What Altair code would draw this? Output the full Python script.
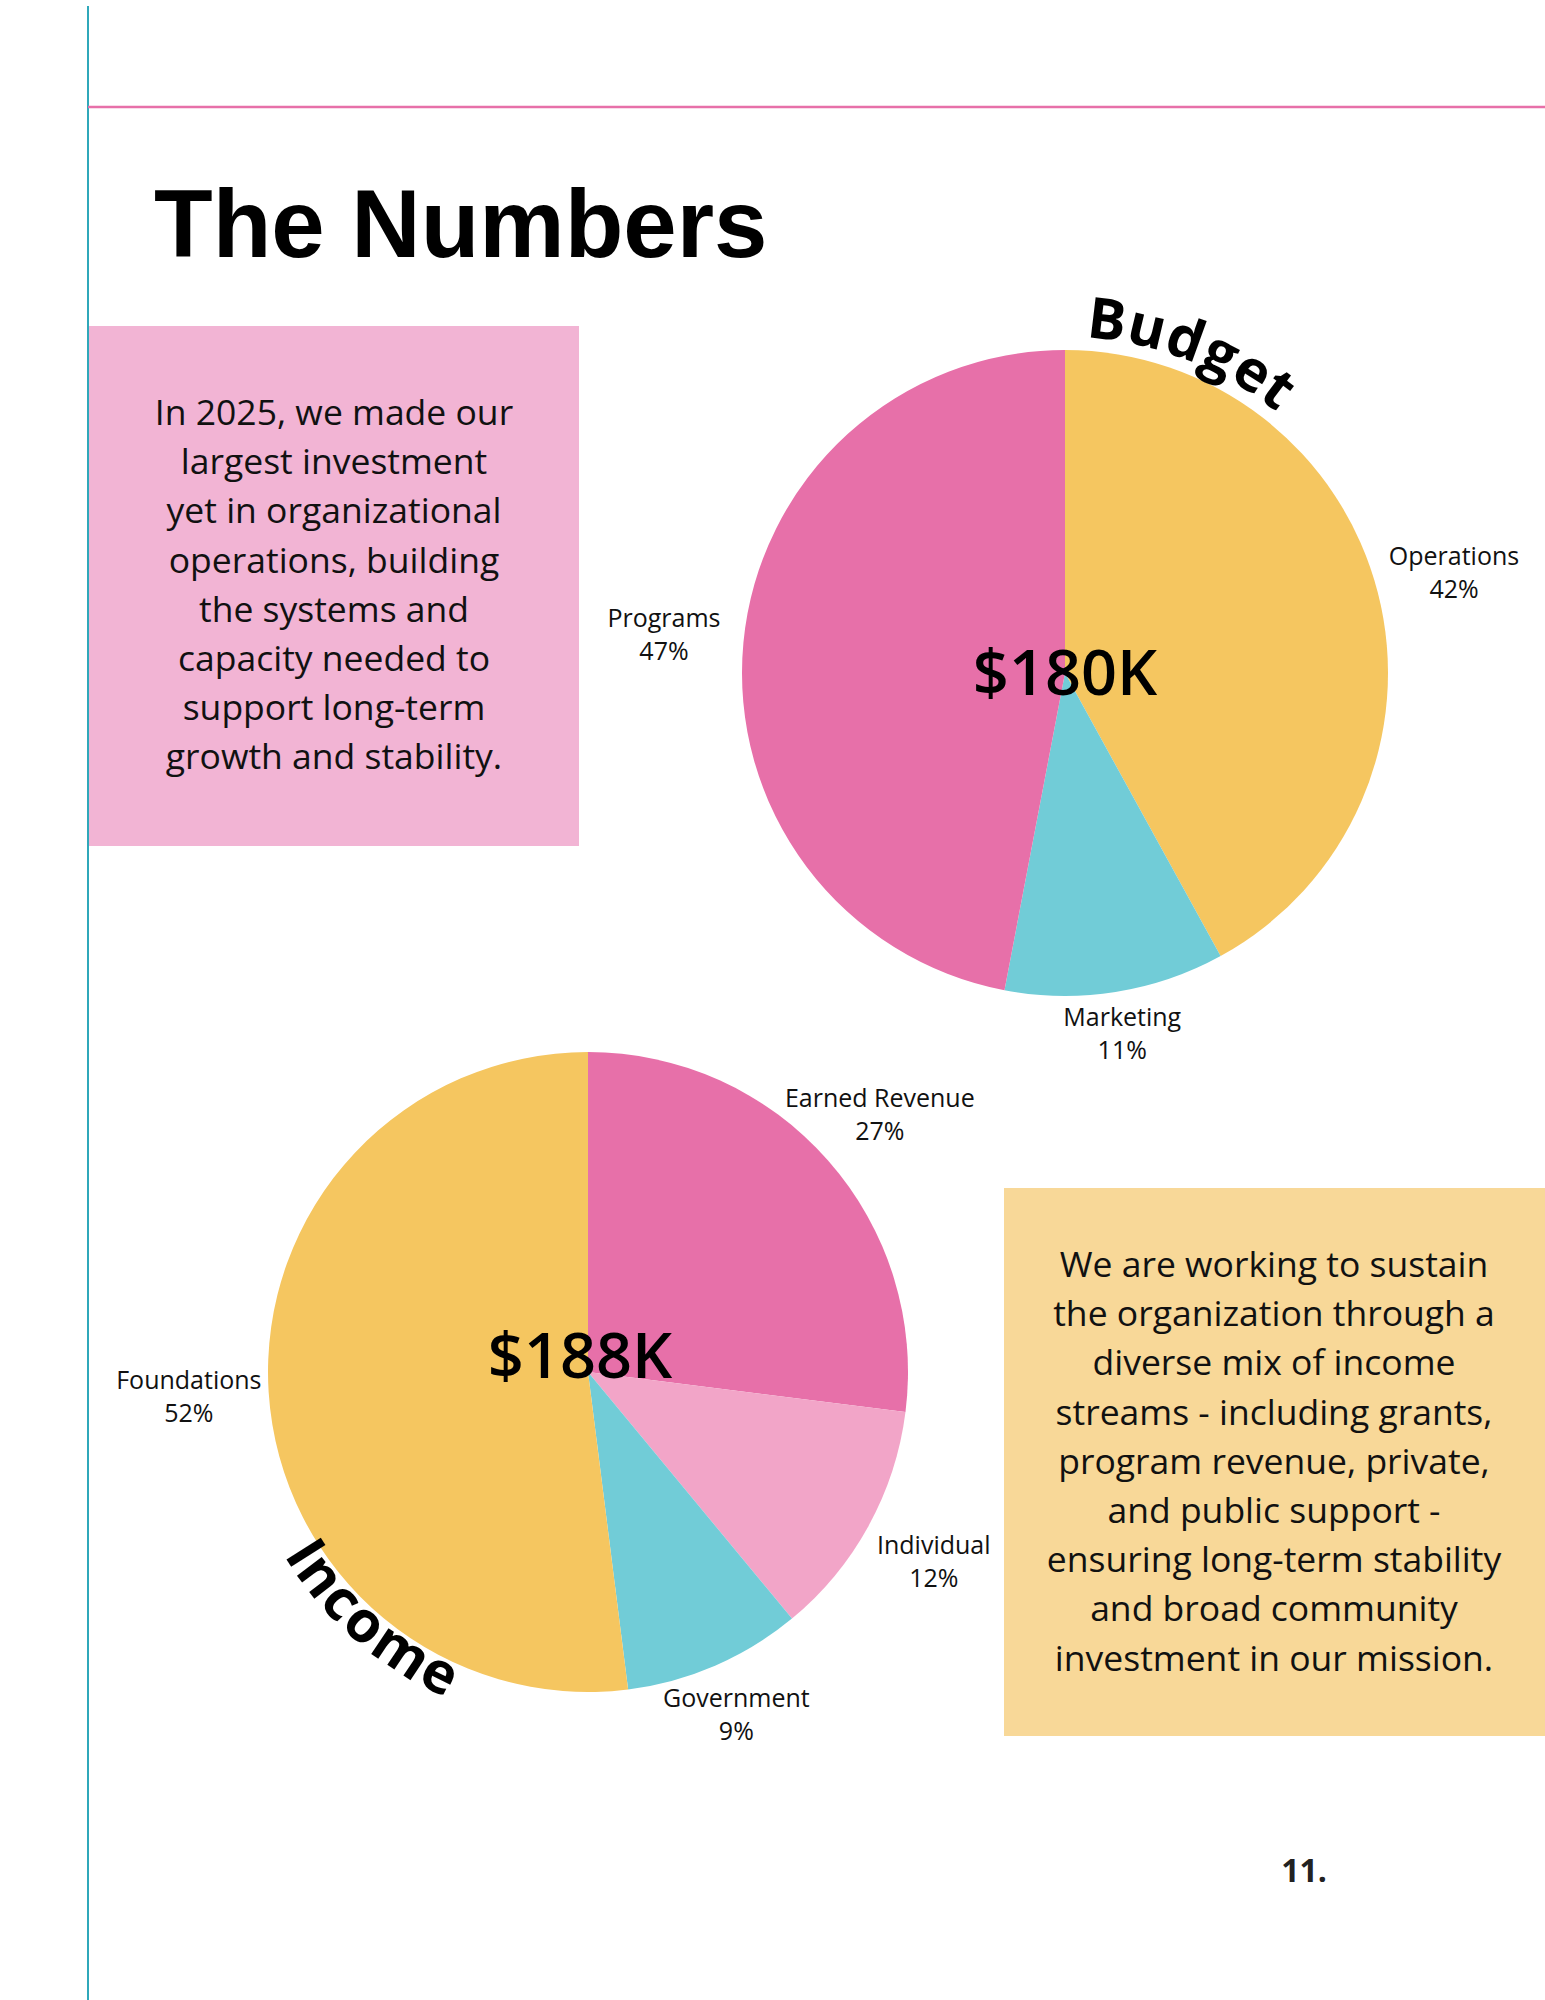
import math

import altair as alt
import numpy as np
import pandas as pd

W, H = 1545, 2000

# ---- data -------------------------------------------------------------
budget_categories = ["Operations", "Marketing", "Programs"]
budget_pct = [42, 11, 47]
budget_total = "$180K"

income_categories = ["Earned Revenue", "Individual", "Government", "Foundations"]
income_pct = [27, 12, 9, 52]
income_total = "$188K"

intro_lines = [
    "In 2025, we made our",
    "largest investment",
    "yet in organizational",
    "operations, building",
    "the systems and",
    "capacity needed to",
    "support long-term",
    "growth and stability.",
]

income_lines = [
    "We are working to sustain",
    "the organization through a",
    "diverse mix of income",
    "streams - including grants,",
    "program revenue, private,",
    "and public support -",
    "ensuring long-term stability",
    "and broad community",
    "investment in our mission.",
]

title = "The Numbers"
page_number = "11."

# ---- styling ----------------------------------------------------------
YELLOW = "#F5C660"
PINK = "#E770A9"
TEAL = "#71CCD7"
LIGHT_PINK = "#F2A5C8"
palette = {
    "Operations": YELLOW,
    "Marketing": TEAL,
    "Programs": PINK,
    "Earned Revenue": PINK,
    "Individual": LIGHT_PINK,
    "Government": TEAL,
    "Foundations": YELLOW,
}
color_scale = alt.Scale(domain=list(palette), range=list(palette.values()))

BODY_FONT = "Open Sans"
INK = "#111111"

# approximate advance widths (em) for the bold curved headings
CHAR_EM = {"B": 0.66, "u": 0.65, "d": 0.65, "g": 0.58, "e": 0.60, "t": 0.41,
           "I": 0.33, "n": 0.65, "c": 0.52, "o": 0.64, "m": 0.98}


def one_row():
    return alt.Chart(pd.DataFrame({"k": [0]}))


def pie(cats, pct, cx, cy, r):
    df = pd.DataFrame({"category": cats, "pct": pct, "order": range(len(cats))})
    total = df["pct"].sum()
    # angle (radians, clockwise from 12 o'clock) at the middle of each slice
    df["mid"] = (df["pct"].cumsum() - df["pct"] / 2) / total * 2 * math.pi
    # push labels further out where they sit beside the pie than above/below it
    df["label_r"] = r + 36 + 44 * np.abs(np.sin(df["mid"]))
    df["pct_text"] = df["pct"].astype(str) + "%"

    arcs = alt.Chart(df).mark_arc(outerRadius=r).encode(
        theta=alt.Theta("pct:Q", stack=True),
        order=alt.Order("order:Q"),
        color=alt.Color("category:N", scale=color_scale, legend=None),
        x=alt.value(cx),
        y=alt.value(cy),
    )
    label_base = alt.Chart(df).encode(
        theta=alt.Theta("mid:Q", scale=None, stack=False),
        radius=alt.Radius("label_r:Q", scale=None),
        x=alt.value(cx),
        y=alt.value(cy),
    )
    label_style = dict(font=BODY_FONT, fontSize=25, color=INK,
                       align="center", baseline="middle")
    names = label_base.mark_text(dy=-16, **label_style).encode(text="category:N")
    shares = label_base.mark_text(dy=17, **label_style).encode(text="pct_text:N")
    return [arcs, names, shares]


def curved_word(word, cx, cy, r_base, first_deg, last_deg, inward=False):
    widths = [CHAR_EM[c] for c in word]
    centers = np.cumsum(widths) - np.array(widths) / 2
    frac = (centers - centers[0]) / (centers[-1] - centers[0])
    deg = first_deg + frac * (last_deg - first_deg)
    rot = deg - 180 if inward else deg
    df = pd.DataFrame({"ch": list(word), "theta": np.radians(deg), "rot": rot})
    return alt.Chart(df).mark_text(
        font=BODY_FONT, fontSize=57, fontWeight="bold", color="#000000",
        align="center", baseline="alphabetic", radius=r_base,
    ).encode(
        x=alt.value(cx),
        y=alt.value(cy),
        theta=alt.Theta("theta:Q", scale=None, stack=False),
        angle=alt.Angle("rot:Q", scale=None),
        text="ch:N",
    )


def box(x0, x1, y0, y1, color):
    return one_row().mark_rect(color=color).encode(
        x=alt.value(x0), x2=alt.value(x1), y=alt.value(y0), y2=alt.value(y1)
    )


def paragraph(lines, cx, first_baseline):
    return one_row().mark_text(
        font=BODY_FONT, fontSize=35.5, color=INK, align="center",
        baseline="alphabetic", lineHeight=49.2,
    ).encode(x=alt.value(cx), y=alt.value(first_baseline), text=alt.value(lines))


# ---- page furniture ---------------------------------------------------
left_rule = one_row().mark_rule(color="#2FA8BA", strokeWidth=2).encode(
    x=alt.value(88), y=alt.value(6), y2=alt.value(H)
)
top_rule = one_row().mark_rule(color=PINK, strokeWidth=2.5).encode(
    x=alt.value(88), x2=alt.value(W), y=alt.value(107)
)
heading = one_row().mark_text(
    font="Liberation Sans", fontSize=96, fontWeight="bold", color="#000000",
    align="left", baseline="alphabetic",
).encode(x=alt.value(154), y=alt.value(257), text=alt.value(title))

intro_box = box(89, 579, 326, 846, "#F2B4D4")
intro_text = paragraph(intro_lines, 334, 425)

income_box = box(1004, W, 1188, 1736, "#F8D898")
income_text = paragraph(income_lines, 1274, 1277)

# ---- pies -------------------------------------------------------------
BUDGET_CX, BUDGET_CY, BUDGET_R = 1065, 673, 323
INCOME_CX, INCOME_CY, INCOME_R = 588, 1372, 320

budget_layers = pie(budget_categories, budget_pct, BUDGET_CX, BUDGET_CY, BUDGET_R)
income_layers = pie(income_categories, income_pct, INCOME_CX, INCOME_CY, INCOME_R)

total_style = dict(font=BODY_FONT, fontSize=63, fontWeight=600, color="#000000",
                   align="center", baseline="alphabetic")
budget_center = one_row().mark_text(**total_style).encode(
    x=alt.value(BUDGET_CX), y=alt.value(695), text=alt.value(budget_total)
)
income_center = one_row().mark_text(**total_style).encode(
    x=alt.value(580), y=alt.value(1378), text=alt.value(income_total)
)

budget_heading = curved_word("Budget", BUDGET_CX, BUDGET_CY, 336, 6.8, 37.0)
income_heading = curved_word("Income", INCOME_CX, INCOME_CY, 355, 237.4, 206.2,
                             inward=True)

page_num = one_row().mark_text(
    font=BODY_FONT, fontSize=32, fontWeight="bold", color="#222222",
    align="center", baseline="alphabetic",
).encode(x=alt.value(1304), y=alt.value(1882), text=alt.value(page_number))

chart = alt.layer(
    left_rule, top_rule, heading,
    intro_box, intro_text,
    *budget_layers, budget_center, budget_heading,
    *income_layers, income_center, income_heading,
    income_box, income_text,
    page_num,
).resolve_scale(theta="independent").properties(
    width=W, height=H, padding=0, autosize="none", background="white"
).configure_view(stroke=None)

chart.save("out.html", embed_options={"renderer": "svg", "actions": False})
